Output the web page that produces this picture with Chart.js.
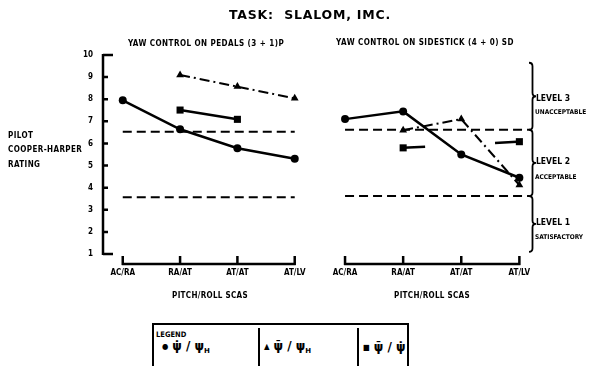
<!DOCTYPE html>
<html>
<head>
<meta charset="utf-8">
<script src="https://cdn.jsdelivr.net/npm/chart.js@4.4.0/dist/chart.umd.min.js"></script>
<style>
  body { margin: 0; width: 593px; height: 366px; overflow: hidden; position: relative; background: #fff; color: #000;
         font-family: 'DejaVu Sans Condensed', 'DejaVu Sans', sans-serif; font-weight: bold; }
  .t { position: absolute; white-space: nowrap; line-height: 1; }
  .c { transform: translate(-50%, -50%); }
  .l { transform: translate(0, -50%); }
  #pedals { position: absolute; left: 0; top: 0; }
  #stick { position: absolute; left: 300px; top: 0; }
  #legend { position: absolute; left: 152px; top: 323px; width: 253px; height: 60px; border: 2px solid #000; }
  .div { position: absolute; top: 3px; width: 2px; height: 60px; background: #000; }
  .sym { font-size: 8px; margin-right: 4px; position: relative; top: -1px; }
  .psi { font-family: 'DejaVu Sans', sans-serif; font-size: 12px; }
  sub { font-size: 7px; vertical-align: -3px; }
</style>
</head>
<body>
<canvas id="pedals" width="320" height="310"></canvas>
<canvas id="stick" width="293" height="310"></canvas>

<div class="t c" style="left:310px;top:15px;font-family:'DejaVu Sans';font-size:12.5px;letter-spacing:0.8px;">TASK:&nbsp; SLALOM, IMC.</div>
<div class="t c" style="left:206px;top:44px;font-size:8px;letter-spacing:0.45px;">YAW CONTROL ON PEDALS (3 + 1)P</div>
<div class="t c" style="left:425px;top:43px;font-size:8px;letter-spacing:0.45px;">YAW CONTROL ON SIDESTICK (4 + 0) SD</div>

<div class="t l" style="left:8px;top:136px;font-size:8px;letter-spacing:0.4px;">PILOT</div>
<div class="t l" style="left:8px;top:150px;font-size:8px;letter-spacing:0.4px;">COOPER-HARPER</div>
<div class="t l" style="left:8px;top:165px;font-size:8px;letter-spacing:0.4px;">RATING</div>

<div class="t c" style="left:210px;top:296px;font-size:8px;letter-spacing:0.3px;">PITCH/ROLL SCAS</div>
<div class="t c" style="left:432px;top:296px;font-size:8px;letter-spacing:0.3px;">PITCH/ROLL SCAS</div>

<div class="t l" style="left:536px;top:98px;font-size:8.5px;">LEVEL 3</div>
<div class="t l" style="left:535px;top:112px;font-size:6.5px;">UNACCEPTABLE</div>
<div class="t l" style="left:536px;top:161px;font-size:8.5px;">LEVEL 2</div>
<div class="t l" style="left:535px;top:177px;font-size:6.5px;">ACCEPTABLE</div>
<div class="t l" style="left:536px;top:222px;font-size:8.5px;">LEVEL 1</div>
<div class="t l" style="left:535px;top:237px;font-size:6.5px;">SATISFACTORY</div>

<div id="legend">
  <div class="t" style="left:2px;top:6px;font-size:7.5px;">LEGEND</div>
  <div class="t l" style="left:8px;top:21px;"><span class="sym">●</span><span class="psi">ψ̇ / ψ<sub>H</sub></span></div>
  <div class="div" style="left:104px;"></div>
  <div class="t l" style="left:110px;top:21px;"><span class="sym">▲</span><span class="psi">ψ̄ / ψ<sub>H</sub></span></div>
  <div class="div" style="left:203px;"></div>
  <div class="t l" style="left:209px;top:21px;"><span class="sym">■</span><span class="psi">ψ̄ / ψ̇</span></div>
</div>

<script>
const categories = ['AC/RA', 'RA/AT', 'AT/AT', 'AT/LV'];
const ratingTicks = [1, 2, 3, 4, 5, 6, 7, 8, 9, 10];

// yaw control on pedals (3 + 1)P
const pedalsDotH = [7.95, 6.64, 5.78, 5.31];     // psi-dot / psi-H
const pedalsBarH = [null, 9.1, 8.57, 8.04];      // psi-bar / psi-H
const pedalsBarDot = [null, 7.51, 7.09, null];   // psi-bar / psi-dot
const pedalsBounds = [6.53, 3.57];               // level 3/2 and 2/1 boundaries

// yaw control on sidestick (4 + 0) SD
const stickDotH = [7.1, 7.45, 5.5, 4.45];
const stickBarH = [null, 6.6, 7.1, 4.12];
const stickBarDot = [null, 5.8, null, 6.08];
const stickBounds = [6.62, 3.62];

// level brackets at the right edge (top, 3/2, 2/1, bottom)
const levelEdges = [9.65, 6.62, 3.62, 1.1];

const font = { family: "'DejaVu Sans Condensed', 'DejaVu Sans', sans-serif", size: 8, weight: 'bold' };

function toPoints(vals) {
  return vals.map((y, x) => ({ x, y })).filter(p => p.y !== null);
}

function boundLine(v, xEnd) {
  return {
    data: [{ x: 0, y: v }, { x: xEnd, y: v }],
    borderColor: '#000', borderWidth: 2, borderDash: [9, 5],
    pointRadius: 0, clip: false, order: 5
  };
}

function ratingSeries(vals, pointStyle, radius, dash, width) {
  return {
    data: toPoints(vals),
    borderColor: '#000', backgroundColor: '#000',
    borderWidth: width, borderDash: dash,
    pointStyle, pointRadius: radius, pointBorderWidth: 0,
    clip: false, order: 1
  };
}

// bracket-style x axis under the points, plus the rating axis on the left panel
const scasAxis = {
  id: 'scasAxis',
  afterDatasetsDraw(chart, args, opts) {
    const { ctx, scales: { x, y } } = chart;
    const base = y.getPixelForValue(1) + 10;
    ctx.save();
    ctx.strokeStyle = '#000';
    ctx.lineWidth = 2.5;
    ctx.beginPath();
    ctx.moveTo(x.getPixelForValue(0) - 1, base);
    ctx.lineTo(x.getPixelForValue(categories.length - 1) + 1, base);
    categories.forEach((c, i) => {
      const px = x.getPixelForValue(i);
      ctx.moveTo(px, base + 1);
      ctx.lineTo(px, base - 8);
    });
    ctx.stroke();
    if (opts.rating) {
      const left = chart.chartArea.left + 1;
      ctx.beginPath();
      ctx.moveTo(left, y.getPixelForValue(10) - 1);
      ctx.lineTo(left, y.getPixelForValue(1) + 1);
      ratingTicks.forEach(v => {
        const py = y.getPixelForValue(v);
        const len = (v === 1 || v === 10) ? 10 : 5;
        ctx.moveTo(left, py);
        ctx.lineTo(left + len, py);
      });
      ctx.stroke();
    }
    if (opts.levels) {
      const bx = chart.chartArea.right + 1.5;
      ctx.lineWidth = 1.8;
      for (let i = 0; i < opts.levels.length - 1; i++) {
        const y1 = y.getPixelForValue(opts.levels[i]);
        const y2 = y.getPixelForValue(opts.levels[i + 1]);
        const m = (y1 + y2) / 2, w = 3.5;
        ctx.beginPath();
        ctx.moveTo(bx - w, y1);
        ctx.quadraticCurveTo(bx, y1, bx, y1 + w);
        ctx.lineTo(bx, m - w);
        ctx.quadraticCurveTo(bx, m, bx + w, m);
        ctx.quadraticCurveTo(bx, m, bx, m + w);
        ctx.lineTo(bx, y2 - w);
        ctx.quadraticCurveTo(bx, y2, bx - w, y2);
        ctx.stroke();
      }
    }
    ctx.restore();
  }
};

function makePanel(id, cfg) {
  new Chart(document.getElementById(id), {
    type: 'line',
    data: { datasets: cfg.datasets },
    plugins: [scasAxis],
    options: {
      responsive: false,
      animation: false,
      events: [],
      layout: { padding: cfg.padding },
      scales: {
        x: {
          type: 'linear', min: cfg.xMin, max: cfg.xMax,
          grid: { display: false, drawTicks: false }, border: { display: false },
          afterBuildTicks: s => { s.ticks = categories.map((c, i) => ({ value: i })); },
          afterFit: s => { s.height = 50; },
          ticks: { autoSkip: false, maxRotation: 0, padding: 14, color: '#000', font,
                   callback: v => categories[v] }
        },
        y: {
          display: cfg.showRating, min: 1, max: 10,
          grid: { display: false, drawTicks: false }, border: { display: false },
          afterBuildTicks: s => { s.ticks = ratingTicks.map(v => ({ value: v })); },
          afterFit: s => { s.width = cfg.showRating ? 30 : 0; },
          ticks: { padding: 9, color: '#000', font }
        }
      },
      plugins: {
        legend: { display: false },
        tooltip: { enabled: false },
        scasAxis: { rating: cfg.showRating, levels: cfg.levels }
      }
    }
  });
}

makePanel('pedals', {
  padding: { top: 55, left: 72, right: 17, bottom: 6 },
  xMin: -0.362, xMax: 3.103,
  showRating: true,
  datasets: [
    boundLine(pedalsBounds[0], 3), boundLine(pedalsBounds[1], 3),
    ratingSeries(pedalsDotH, 'circle', 4, [], 2.5),
    ratingSeries(pedalsBarH, 'triangle', 4.5, [10, 4, 2, 4], 2),
    ratingSeries(pedalsBarDot, 'rect', 5, [], 2.5)
  ]
});

makePanel('stick', {
  padding: { top: 55, left: 34, right: 62, bottom: 6 },
  xMin: -0.19, xMax: 3.2,
  showRating: false,
  levels: levelEdges,
  datasets: [
    boundLine(stickBounds[0], 3.17), boundLine(stickBounds[1], 3.17),
    ratingSeries(stickDotH, 'circle', 4, [], 2.5),
    ratingSeries(stickBarH, 'triangle', 4.5, [10, 4, 2, 4], 2),
    ratingSeries(stickBarDot, 'rect', 5, [22, 70], 2.5)
  ]
});
</script>
</body>
</html>
